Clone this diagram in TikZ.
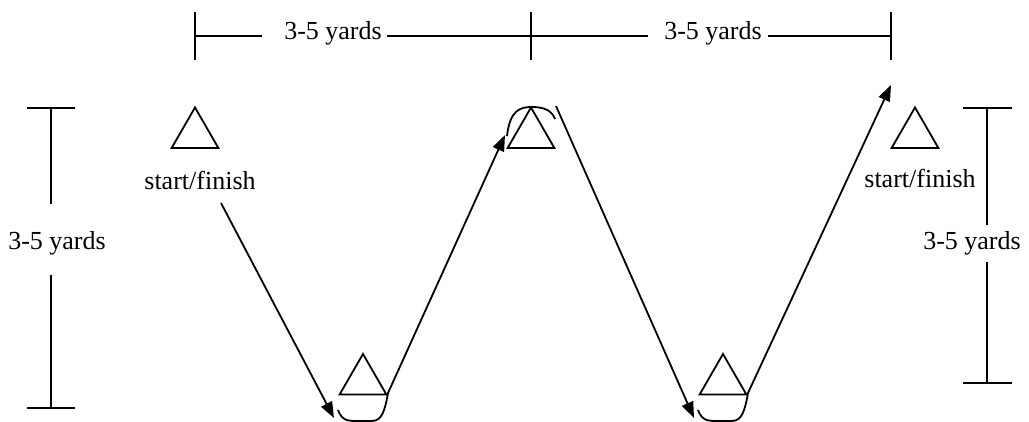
\documentclass[tikz,border=0pt]{standalone}
\usepackage{fontspec}
\setmainfont{Liberation Serif}
\usetikzlibrary{arrows.meta,shapes.geometric}

\begin{document}
\begin{tikzpicture}[x=1pt,y=-1pt,line width=1.8pt]
    % Define styles for cones, labels and runs
    \tikzset{cone/.style={draw, regular polygon, regular polygon sides=3, minimum size=54pt, inner sep=0pt}}
    \tikzset{lbl/.style={font=\fontsize{26}{30}\selectfont, inner sep=0pt}}
    \tikzset{run/.style={-{Triangle[length=16pt,width=12pt]}}}

    \useasboundingbox (0,0) rectangle (1029,422);

    % Cones
    \node(start)[cone] at (195,134.5) {};
    \node(top)[cone] at (531,134.5) {};
    \node(finish)[cone] at (915,134.5) {};
    \node(low1)[cone] at (363,381) {};
    \node(low2)[cone] at (723,381) {};

    \node(startlbl)[lbl] at (200,180) {start/finish};
    \node(finishlbl)[lbl] at (920,178) {start/finish};

    % Top distances
    \foreach \x in {195,531,891} {
        \draw (\x,12) -- (\x,60);
      }
    \coordinate (tA) at (195,36);
    \coordinate (tB) at (531,36);
    \coordinate (tC) at (891,36);
    \node(wide1)[lbl, anchor=base] at (333,40) {3-5 yards};
    \node(wide2)[lbl, anchor=base] at (713,40) {3-5 yards};
    \draw (tA) -- ([xshift=-21pt]wide1.west |- tA);
    \draw ([xshift=4pt]wide1.east |- tA) -- (tB);
    \draw (tB) -- ([xshift=-15pt]wide2.west |- tB);
    \draw ([xshift=5pt]wide2.east |- tB) -- (tC);

    % Left depth
    \node(deep1)[lbl] at (57,243) {3-5 yards};
    \draw (27,108) -- (75,108);
    \draw (51,108) -- (51,204);
    \draw (51,275) -- (51,408);
    \draw (27,408) -- (75,408);

    % Right depth
    \node(deep2)[lbl] at (972,243) {3-5 yards};
    \draw (963,108) -- (1012,108);
    \draw (987,108) -- (987,225);
    \draw (987,262) -- (987,383);
    \draw (963,383) -- (1012,383);

    % Runs
    \coordinate (go) at (221,203);
    \coordinate (in1) at (334,418);
    \coordinate (in2) at (505,135);
    \coordinate (out2) at (556,106);
    \coordinate (in3) at (694,418);
    \coordinate (in4) at (891,85);

    \draw[run] (go) -- (in1);
    \draw[run] (338,410) .. controls (342,421) and (348,421) .. (358,421) -- (372,421)
    .. controls (382,421) and (385,410) .. (388,393) -- (in2);
    \draw (507,136) .. controls (510,110) and (520,107) .. (532,107)
    .. controls (545,107) and (552,111) .. (555,119);
    \draw[run] (out2) -- (in3);
    \draw[run] (698,410) .. controls (702,421) and (708,421) .. (718,421) -- (732,421)
    .. controls (742,421) and (745,410) .. (748,393) -- (in4);
  \end{tikzpicture}
\end{document}
